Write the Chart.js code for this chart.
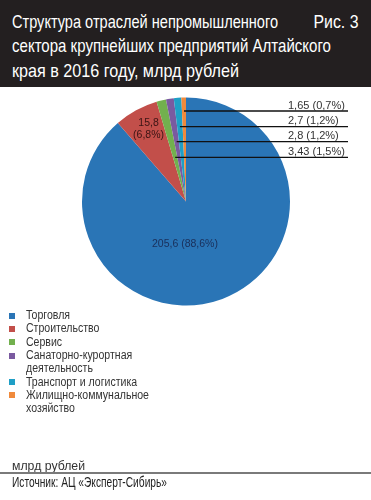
<!DOCTYPE html>
<html>

<head>
  <meta charset="utf-8">
  <title>Структура отраслей непромышленного сектора</title>
  <script src="https://cdn.jsdelivr.net/npm/chart.js"></script>
  <style>
    body {
      margin: 0;
      width: 371px;
      height: 500px;
      background: #fff;
      position: relative;
      overflow: hidden;
      font-family: "Liberation Sans", Arial, sans-serif;
    }

    /* dark title bar */
    .title-bar {
      position: absolute;
      left: 0;
      top: 0;
      width: 371px;
      height: 87px;
      background: #231f20;
      color: #fff;
    }

    .tline {
      position: absolute;
      left: 12px;
      font-size: 18.5px;
      line-height: 24.5px;
      white-space: nowrap;
      transform-origin: left top;
    }

    .fig {
      position: absolute;
      right: 13px;
      top: 9.7px;
      font-size: 18.5px;
      line-height: 24.5px;
      white-space: nowrap;
      transform-origin: right top;
    }

    .chart-box {
      position: absolute;
      left: 0;
      top: 87px;
      width: 371px;
      height: 225px;
    }

    /* legend built from the same arrays as the chart */
    #legend {
      position: absolute;
      left: 9px;
      top: 309.2px;
      margin: 0;
      padding: 0;
      list-style: none;
      font-size: 12px;
      line-height: 13.3px;
      color: #333;
    }

    #legend li {
      position: relative;
      padding-left: 17px;
    }

    #legend li span {
      position: absolute;
      left: 0;
      top: 3.5px;
      width: 6px;
      height: 6px;
    }

    #legend li div {
      transform-origin: left top;
    }

    .units {
      position: absolute;
      left: 12px;
      top: 460px;
      font-size: 12.5px;
      line-height: 12px;
      color: #333;
      white-space: nowrap;
      transform-origin: left top;
    }

    .rule {
      position: absolute;
      left: 0;
      top: 472px;
      width: 371px;
      height: 1.5px;
      background: #7a7a7a;
    }

    .source {
      position: absolute;
      left: 12px;
      top: 475px;
      font-size: 15px;
      line-height: 14px;
      color: #222;
      white-space: nowrap;
      transform-origin: left top;
    }
  </style>
</head>

<body>
  <div class="title-bar">
    <div class="tline" style="top:9.7px" data-w="266">Структура отраслей непромышленного</div>
    <div class="tline" style="top:34.1px" data-w="319">сектора крупнейших предприятий Алтайского</div>
    <div class="tline" style="top:58.7px" data-w="227">края в 2016 году, млрд рублей</div>
    <div class="fig" data-w="45">Рис. 3</div>
  </div>

  <div class="chart-box">
    <canvas id="pieChart"></canvas>
  </div>

  <ul id="legend"></ul>

  <div class="units" data-w="73">млрд рублей</div>
  <div class="rule"></div>
  <div class="source" data-w="155">Источник: АЦ «Эксперт-Сибирь»</div>

  <script>
    // Data
    const categories = ['Торговля', 'Строительство', 'Сервис', 'Санаторно-курортная деятельность',
      'Транспорт и логистика', 'Жилищно-коммунальное хозяйство'];
    const values = [205.6, 15.8, 3.43, 2.8, 2.7, 1.65];
    const colors = ['#2a75b6', '#c24f4a', '#72b04e', '#7a5aa0', '#1f9fc6', '#f08a3c'];

    // The original uses a condensed face; squeeze plain text to its widths
    document.querySelectorAll('[data-w]').forEach(el => {
      const w = el.getBoundingClientRect().width;
      el.style.transform = `scaleX(${el.dataset.w / w})`;
    });

    // Build the legend list
    const legend = document.getElementById('legend');
    const probe = document.createElement('span');
    probe.textContent = 'Жилищно-коммунальное';
    probe.style.whiteSpace = 'nowrap';
    legend.appendChild(probe);
    const legendScale = 123 / probe.getBoundingClientRect().width;
    legend.removeChild(probe);

    categories.forEach((name, i) => {
      legend.insertAdjacentHTML('beforeend',
        `<li><span style="background:${colors[i]}"></span>` +
        `<div style="width:${130 / legendScale}px;transform:scaleX(${legendScale})">${name}</div></li>`);
    });

    const total = values.reduce((a, b) => a + b, 0);

    function fmt(v) {
      return String(v).replace('.', ',');
    }

    function pct(v) {
      return (v / total * 100).toFixed(1).replace('.', ',') + '%';
    }

    // Labels inside the pie (offsets in units of radius from the centre)
    const insideLabels = {
      0: { dx: -0.01, dy: 0.41, color: '#1a2f5a', twoLines: false },
      1: { dx: -0.36, dy: -0.70, color: '#3a1414', twoLines: true }
    };
    // Leader lines for the small slices (y in units of radius from the centre)
    const leaderY = { 2: -0.425, 3: -0.575, 4: -0.719, 5: -0.87 };
    const leaderEndX = 348;
    const leaderTextX = 288;

    const labelPlugin = {
      id: 'labelPlugin',
      afterDatasetsDraw(chart) {
        const ctx = chart.ctx;
        const arcs = chart.getDatasetMeta(0).data;
        ctx.save();

        // inside labels
        ctx.font = '10.5px "Liberation Sans", Arial, sans-serif';
        ctx.textAlign = 'center';
        ctx.textBaseline = 'middle';
        Object.keys(insideLabels).forEach(k => {
          const arc = arcs[k];
          const s = insideLabels[k];
          const r = arc.outerRadius;
          const x = arc.x + s.dx * r;
          const y = arc.y + s.dy * r;
          ctx.fillStyle = s.color;
          if (s.twoLines) {
            ctx.fillText(fmt(values[k]), x, y - 6);
            ctx.fillText('(' + pct(values[k]) + ')', x, y + 6);
          } else {
            ctx.fillText(fmt(values[k]) + ' (' + pct(values[k]) + ')', x, y);
          }
        });

        // leader lines with labels on the right
        ctx.font = '11px "Liberation Sans", Arial, sans-serif';
        ctx.textAlign = 'left';
        ctx.textBaseline = 'alphabetic';
        Object.keys(leaderY).forEach(k => {
          const arc = arcs[k];
          const r = arc.outerRadius;
          const mid = (arc.startAngle + arc.endAngle) / 2;
          const dy = leaderY[k] * r;
          const t = dy / Math.sin(mid);
          const x0 = arc.x + t * Math.cos(mid);
          const y0 = arc.y + dy;
          ctx.strokeStyle = '#111';
          ctx.lineWidth = 1.3;
          ctx.beginPath();
          ctx.moveTo(x0, y0);
          ctx.lineTo(leaderEndX, y0);
          ctx.stroke();
          ctx.fillStyle = '#333';
          ctx.fillText(fmt(values[k]) + ' (' + pct(values[k]) + ')', leaderTextX, y0 - 2.5);
        });

        ctx.restore();
      }
    };

    const chart = new Chart(document.getElementById('pieChart'), {
      type: 'pie',
      data: {
        labels: categories,
        datasets: [{
          data: values,
          backgroundColor: colors,
          borderWidth: 0,
          hoverOffset: 0
        }]
      },
      options: {
        responsive: true,
        maintainAspectRatio: false,
        animation: false,
        layout: {
          padding: { left: 82, right: 81, top: 10.5, bottom: 6.5 }
        },
        plugins: {
          legend: { display: false },
          tooltip: { enabled: false }
        }
      },
      plugins: [labelPlugin]
    });
  </script>
</body>

</html>
